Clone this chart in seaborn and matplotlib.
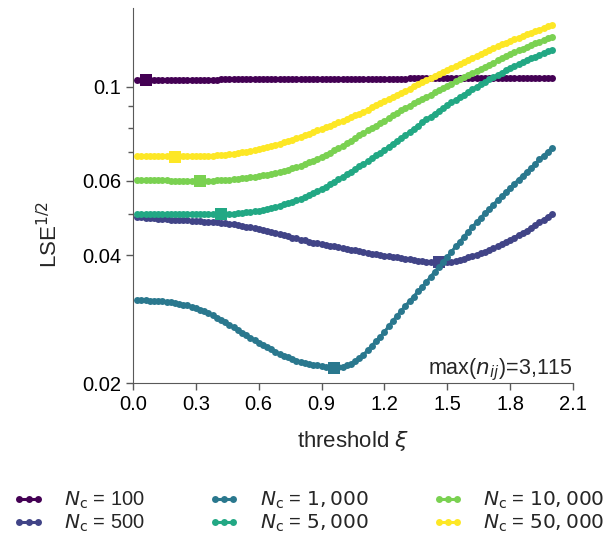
import numpy as np
import pandas as pd
import matplotlib
matplotlib.use("Agg")
import matplotlib.pyplot as plt
import seaborn as sns

# ---------------- data ----------------
xi = [0.02, 0.04, 0.06, 0.08, 0.10, 0.12, 0.14, 0.16, 0.18, 0.20,
      0.22, 0.24, 0.26, 0.28, 0.30, 0.32, 0.34, 0.36, 0.38, 0.40,
      0.42, 0.44, 0.46, 0.48, 0.50, 0.52, 0.54, 0.56, 0.58, 0.60,
      0.62, 0.64, 0.66, 0.68, 0.70, 0.72, 0.74, 0.76, 0.78, 0.80,
      0.82, 0.84, 0.86, 0.88, 0.90, 0.92, 0.94, 0.96, 0.98, 1.00,
      1.02, 1.04, 1.06, 1.08, 1.10, 1.12, 1.14, 1.16, 1.18, 1.20,
      1.22, 1.24, 1.26, 1.28, 1.30, 1.32, 1.34, 1.36, 1.38, 1.40,
      1.42, 1.44, 1.46, 1.48, 1.50, 1.52, 1.54, 1.56, 1.58, 1.60,
      1.62, 1.64, 1.66, 1.68, 1.70, 1.72, 1.74, 1.76, 1.78, 1.80,
      1.82, 1.84, 1.86, 1.88, 1.90, 1.92, 1.94, 1.96, 1.98, 2.00]

lse_100 = [0.1040, 0.1039, 0.1037, 0.1038, 0.1039, 0.1039, 0.1039, 0.1039, 0.1039, 0.1039,
           0.1040, 0.1040, 0.1040, 0.1040, 0.1040, 0.1040, 0.1040, 0.1040, 0.1040, 0.1040,
           0.1041, 0.1041, 0.1041, 0.1041, 0.1041, 0.1041, 0.1041, 0.1041, 0.1041, 0.1041,
           0.1041, 0.1042, 0.1042, 0.1042, 0.1042, 0.1042, 0.1042, 0.1042, 0.1042, 0.1042,
           0.1043, 0.1043, 0.1043, 0.1043, 0.1043, 0.1043, 0.1043, 0.1043, 0.1043, 0.1043,
           0.1044, 0.1044, 0.1044, 0.1044, 0.1044, 0.1044, 0.1044, 0.1045, 0.1045, 0.1045,
           0.1045, 0.1046, 0.1046, 0.1046, 0.1046, 0.1047, 0.1047, 0.1047, 0.1047, 0.1047,
           0.1047, 0.1048, 0.1048, 0.1048, 0.1048, 0.1048, 0.1049, 0.1049, 0.1049, 0.1049,
           0.1049, 0.1050, 0.1050, 0.1050, 0.1050, 0.1050, 0.1050, 0.1051, 0.1051, 0.1051,
           0.1051, 0.1051, 0.1051, 0.1051, 0.1051, 0.1052, 0.1052, 0.1052, 0.1052, 0.1052]

lse_500 = [0.0493, 0.0492, 0.0491, 0.0490, 0.0489, 0.0488, 0.0487, 0.0487, 0.0486, 0.0485,
           0.0485, 0.0484, 0.0484, 0.0483, 0.0483, 0.0482, 0.0481, 0.0481, 0.0480, 0.0479,
           0.0478, 0.0477, 0.0475, 0.0474, 0.0472, 0.0470, 0.0468, 0.0466, 0.0464, 0.0462,
           0.0460, 0.0457, 0.0455, 0.0452, 0.0450, 0.0447, 0.0444, 0.0441, 0.0439, 0.0436,
           0.0434, 0.0431, 0.0429, 0.0427, 0.0425, 0.0423, 0.0421, 0.0420, 0.0418, 0.0416,
           0.0414, 0.0413, 0.0411, 0.0410, 0.0408, 0.0406, 0.0404, 0.0403, 0.0401, 0.0399,
           0.0398, 0.0397, 0.0396, 0.0394, 0.0393, 0.0392, 0.0391, 0.0389, 0.0388, 0.0387,
           0.03865, 0.03862, 0.03858, 0.03860, 0.0386, 0.0387, 0.0388, 0.0390, 0.0393, 0.0396,
           0.0399, 0.0402, 0.0405, 0.0408, 0.0412, 0.0416, 0.0420, 0.0425, 0.0430, 0.0435,
           0.0441, 0.0447, 0.0452, 0.0458, 0.0465, 0.0472, 0.0479, 0.0486, 0.0494, 0.0501]

lse_1000 = [0.0314, 0.0314, 0.0314, 0.0313, 0.0313, 0.0312, 0.0312, 0.0311, 0.0310, 0.0309,
            0.0308, 0.0306, 0.0305, 0.0303, 0.0301, 0.0298, 0.0295, 0.0292, 0.0289, 0.0285,
            0.0281, 0.0278, 0.0274, 0.0271, 0.0267, 0.0263, 0.0260, 0.0256, 0.0253, 0.0249,
            0.0246, 0.0243, 0.0240, 0.0237, 0.0234, 0.0232, 0.0230, 0.0228, 0.0226, 0.0224,
            0.0223, 0.0222, 0.0221, 0.0220, 0.0219, 0.02183, 0.02177, 0.02174, 0.02177, 0.02185,
            0.0220, 0.0222, 0.0225, 0.0229, 0.0233, 0.0239, 0.0245, 0.0251, 0.0257, 0.0264,
            0.0272, 0.0280, 0.0288, 0.0296, 0.0304, 0.0312, 0.0320, 0.0329, 0.0337, 0.0346,
            0.0356, 0.0366, 0.0376, 0.0386, 0.0397, 0.0408, 0.0420, 0.0431, 0.0443, 0.0455,
            0.0467, 0.0479, 0.0491, 0.0503, 0.0515, 0.0527, 0.0540, 0.0552, 0.0565, 0.0577,
            0.0590, 0.0604, 0.0617, 0.0631, 0.0644, 0.0659, 0.0674, 0.0688, 0.0703, 0.0718]

lse_5000 = [0.0502, 0.0502, 0.0502, 0.0502, 0.0502, 0.0501, 0.0501, 0.0501, 0.0501, 0.0501,
            0.0501, 0.0501, 0.0501, 0.0501, 0.0501, 0.0501, 0.0501, 0.0500, 0.0500, 0.0500,
            0.04998, 0.0500, 0.0501, 0.0502, 0.0504, 0.0505, 0.0506, 0.0507, 0.0509, 0.0510,
            0.0513, 0.0515, 0.0518, 0.0521, 0.0524, 0.0528, 0.0532, 0.0536, 0.0540, 0.0544,
            0.0550, 0.0555, 0.0561, 0.0567, 0.0574, 0.0581, 0.0589, 0.0597, 0.0605, 0.0613,
            0.0622, 0.0631, 0.0640, 0.0649, 0.0658, 0.0668, 0.0678, 0.0689, 0.0699, 0.0710,
            0.0722, 0.0734, 0.0746, 0.0758, 0.0770, 0.0783, 0.0797, 0.0810, 0.0824, 0.0838,
            0.0851, 0.0865, 0.0878, 0.0892, 0.0905, 0.0919, 0.0932, 0.0946, 0.0959, 0.0973,
            0.0987, 0.1001, 0.1014, 0.1028, 0.1042, 0.1055, 0.1068, 0.1081, 0.1095, 0.1108,
            0.1120, 0.1132, 0.1144, 0.1156, 0.1168, 0.1179, 0.1190, 0.1201, 0.1212, 0.1223]

lse_10000 = [0.0602, 0.0602, 0.0602, 0.0602, 0.0602, 0.0602, 0.0602, 0.0602, 0.0601, 0.0601,
             0.0601, 0.0601, 0.0601, 0.0601, 0.0601, 0.06005, 0.0601, 0.0601, 0.0601, 0.0602,
             0.0602, 0.0603, 0.0604, 0.0605, 0.0606, 0.0608, 0.0610, 0.0612, 0.0614, 0.0616,
             0.0619, 0.0621, 0.0624, 0.0627, 0.0630, 0.0634, 0.0638, 0.0642, 0.0646, 0.0651,
             0.0657, 0.0663, 0.0670, 0.0676, 0.0683, 0.0691, 0.0699, 0.0708, 0.0716, 0.0725,
             0.0736, 0.0746, 0.0757, 0.0768, 0.0779, 0.0789, 0.0800, 0.0810, 0.0821, 0.0831,
             0.0843, 0.0856, 0.0868, 0.0880, 0.0892, 0.0903, 0.0914, 0.0925, 0.0936, 0.0947,
             0.0959, 0.0970, 0.0982, 0.0993, 0.1005, 0.1017, 0.1030, 0.1042, 0.1055, 0.1067,
             0.1079, 0.1091, 0.1103, 0.1115, 0.1127, 0.1140, 0.1154, 0.1167, 0.1181, 0.1195,
             0.1207, 0.1219, 0.1231, 0.1243, 0.1255, 0.1266, 0.1278, 0.1289, 0.1301, 0.1312]

lse_50000 = [0.0686, 0.0686, 0.0686, 0.0685, 0.0685, 0.0685, 0.0685, 0.0685, 0.0685, 0.0684,
             0.0685, 0.0685, 0.0685, 0.0685, 0.0686, 0.0686, 0.0687, 0.0687, 0.0688, 0.0689,
             0.0690, 0.0692, 0.0694, 0.0696, 0.0698, 0.0700, 0.0703, 0.0705, 0.0708, 0.0713,
             0.0717, 0.0721, 0.0726, 0.0730, 0.0735, 0.0740, 0.0746, 0.0751, 0.0757, 0.0763,
             0.0769, 0.0776, 0.0782, 0.0789, 0.0796, 0.0803, 0.0810, 0.0817, 0.0824, 0.0831,
             0.0839, 0.0848, 0.0856, 0.0865, 0.0873, 0.0884, 0.0895, 0.0905, 0.0916, 0.0927,
             0.0937, 0.0947, 0.0958, 0.0968, 0.0978, 0.0990, 0.1002, 0.1015, 0.1027, 0.1039,
             0.1051, 0.1062, 0.1074, 0.1085, 0.1097, 0.1109, 0.1121, 0.1134, 0.1146, 0.1158,
             0.1171, 0.1184, 0.1197, 0.1210, 0.1223, 0.1235, 0.1247, 0.1260, 0.1272, 0.1284,
             0.1295, 0.1307, 0.1318, 0.1330, 0.1341, 0.1353, 0.1365, 0.1377, 0.1389, 0.1401]

labels = [r"$N_\mathrm{c}$ = 100", r"$N_\mathrm{c}$ = 500", r"$N_\mathrm{c}$ = $1,000$",
          r"$N_\mathrm{c}$ = $5,000$", r"$N_\mathrm{c}$ = $10,000$", r"$N_\mathrm{c}$ = $50,000$"]
series = [lse_100, lse_500, lse_1000, lse_5000, lse_10000, lse_50000]
opt_xi = [0.06, 1.46, 0.96, 0.42, 0.32, 0.20]   # optimal thresholds (square markers)

xticks = [0.0, 0.3, 0.6, 0.9, 1.2, 1.5, 1.8, 2.1]
yticks = [0.02, 0.04, 0.06, 0.1]
ytick_labels = ["0.02", "0.04", "0.06", "0.1"]
yminor = [0.05, 0.07, 0.08, 0.09]
annot = r"max($n_{ij}$)=3,115"

# ---------------- style ----------------
sns.set_style("ticks")
plt.rcParams["font.family"] = ["Liberation Sans", "DejaVu Sans"]
plt.rcParams["mathtext.fontset"] = "dejavusans"
plt.rcParams["axes.edgecolor"] = "0.35"
plt.rcParams["xtick.color"] = "0.35"
plt.rcParams["ytick.color"] = "0.35"
plt.rcParams["xtick.labelcolor"] = "black"
plt.rcParams["ytick.labelcolor"] = "black"

cmap = sns.color_palette("viridis", as_cmap=True)
colors = [cmap(v) for v in np.linspace(0, 1, len(labels))]

df = pd.DataFrame({
    "xi": np.tile(xi, len(labels)),
    "lse": np.concatenate(series),
    "label": np.repeat(labels, len(xi)),
})
opt_df = pd.DataFrame({
    "xi": opt_xi,
    "lse": [s[xi.index(o)] for s, o in zip(series, opt_xi)],
    "label": labels,
})

fig = plt.figure(figsize=(6.14, 5.44), dpi=100)
ax = fig.add_axes([133 / 614, 1 - 383 / 544, 440 / 614, 375 / 544])

sns.lineplot(data=df, x="xi", y="lse", hue="label", hue_order=labels,
             palette=colors, marker="o", markersize=5.0, markeredgewidth=0,
             linewidth=2.2, legend=False, ax=ax, errorbar=None)
for i, ln in enumerate(ax.lines[:len(labels)]):
    ln.set_zorder(2 + 2 * i)

for i, lab in enumerate(labels):
    sns.scatterplot(data=opt_df[opt_df["label"] == lab], x="xi", y="lse",
                    color=colors[i], marker="s", s=70, linewidth=0,
                    legend=False, ax=ax, zorder=3 + 2 * i)

ax.set_yscale("log")
ax.set_xlim(0, 2.1)
ax.set_ylim(0.02, 0.1535)
ax.set_xticks(xticks)
ax.set_xticklabels([f"{t:.1f}" for t in xticks])
ax.set_yticks(yticks)
ax.set_yticklabels(ytick_labels)
ax.set_yticks(yminor, minor=True)
ax.yaxis.set_minor_formatter(matplotlib.ticker.NullFormatter())
ax.tick_params(axis="both", which="major", labelsize=14.5, length=5, width=1)
ax.tick_params(axis="y", which="minor", length=3.5, width=1)
sns.despine(ax=ax)

ax.set_xlabel(r"threshold $\xi$", fontsize=16)
ax.set_ylabel(r"LSE$^{1/2}$", fontsize=16)
ax.xaxis.set_label_coords(0.5, -0.122)
ax.yaxis.set_label_coords(-0.16, 0.395)

ax.text(1.0, 0.0, annot, transform=ax.transAxes, ha="right", va="bottom",
        fontsize=15.5)

handles = ax.lines[:len(labels)]
fig.legend(handles, labels, loc="center", bbox_to_anchor=(0.503, 1 - 512 / 544),
           ncol=3, frameon=False, fontsize=14.5, numpoints=3, handlelength=1.5,
           columnspacing=3.2, handletextpad=1.0, labelspacing=0.1)

fig.savefig("out.png", dpi=100)
